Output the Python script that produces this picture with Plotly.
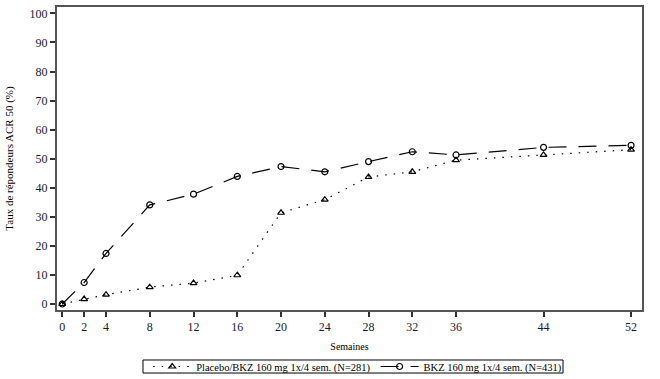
import plotly.graph_objects as go

weeks = [0, 2, 4, 8, 12, 16, 20, 24, 28, 32, 36, 44, 52]
placebo = [0, 1.7, 3.2, 5.8, 7.2, 9.9, 31.4, 35.9, 43.7, 45.5, 49.5, 51.3, 53.1]
bkz = [0, 7.4, 17.4, 34.1, 37.8, 43.9, 47.3, 45.5, 49.0, 52.4, 51.3, 53.9, 54.6]
y_ticks = list(range(0, 101, 10))

name_placebo = "Placebo/BKZ 160 mg 1x/4 sem. (N=281)"
name_bkz = "BKZ 160 mg 1x/4 sem. (N=431)"

font_family = "Liberation Serif"

fig = go.Figure()
fig.add_trace(go.Scatter(
    x=weeks, y=placebo, name=name_placebo, mode="lines+markers",
    line=dict(color="black", width=1.2, dash="1.5px,7px"),
    marker=dict(symbol="triangle-up-open", size=6, color="black", line=dict(width=1.2)),
))
fig.add_trace(go.Scatter(
    x=weeks, y=bkz, name=name_bkz, mode="lines+markers",
    line=dict(color="black", width=1.2, dash="18px,12px"),
    marker=dict(symbol="circle-open", size=6, color="black", line=dict(width=1.2)),
))

axis_common = dict(
    showgrid=False, zeroline=False, showline=True, linecolor="#555555", linewidth=2,
    mirror=True, ticks="outside", ticklen=5, tickcolor="#333333", tickwidth=1.5,
    tickfont=dict(family=font_family, size=12, color="#1a1a2e"),
    automargin=False,
)

fig.update_layout(
    width=660, height=379,
    margin=dict(l=57, r=18, t=7, b=69, autoexpand=False),
    paper_bgcolor="white", plot_bgcolor="white",
    font=dict(family=font_family, color="black"),
    xaxis=dict(
        range=[-0.48, 53.0], tickvals=weeks, ticktext=[str(w) for w in weeks],
        title=dict(text="Semaines", font=dict(family=font_family, size=10), standoff=10),
        **axis_common,
    ),
    yaxis=dict(
        range=[-2.06, 102.2], tickvals=y_ticks,
        title=dict(text="Taux de répondeurs ACR 50 (%)", font=dict(family=font_family, size=11), standoff=14),
        **axis_common,
    ),
    legend=dict(
        orientation="h", x=0.514, xanchor="center", y=-0.1865, yanchor="middle",
        borderwidth=0, bgcolor="rgba(0,0,0,0)",
        font=dict(family=font_family, size=10.5), itemwidth=38,
        tracegroupgap=0,
    ),
    shapes=[dict(
        type="rect", xref="paper", yref="paper",
        x0=0.147, x1=0.865, y0=-0.208, y1=-0.165,
        line=dict(color="black", width=1), fillcolor="rgba(0,0,0,0)", layer="above",
    )],
    showlegend=True,
)

fig.write_html(
    "out.html",
    config={"displayModeBar": False},
    post_script="document.body.style.margin='0';document.body.style.overflow='hidden';",
)
